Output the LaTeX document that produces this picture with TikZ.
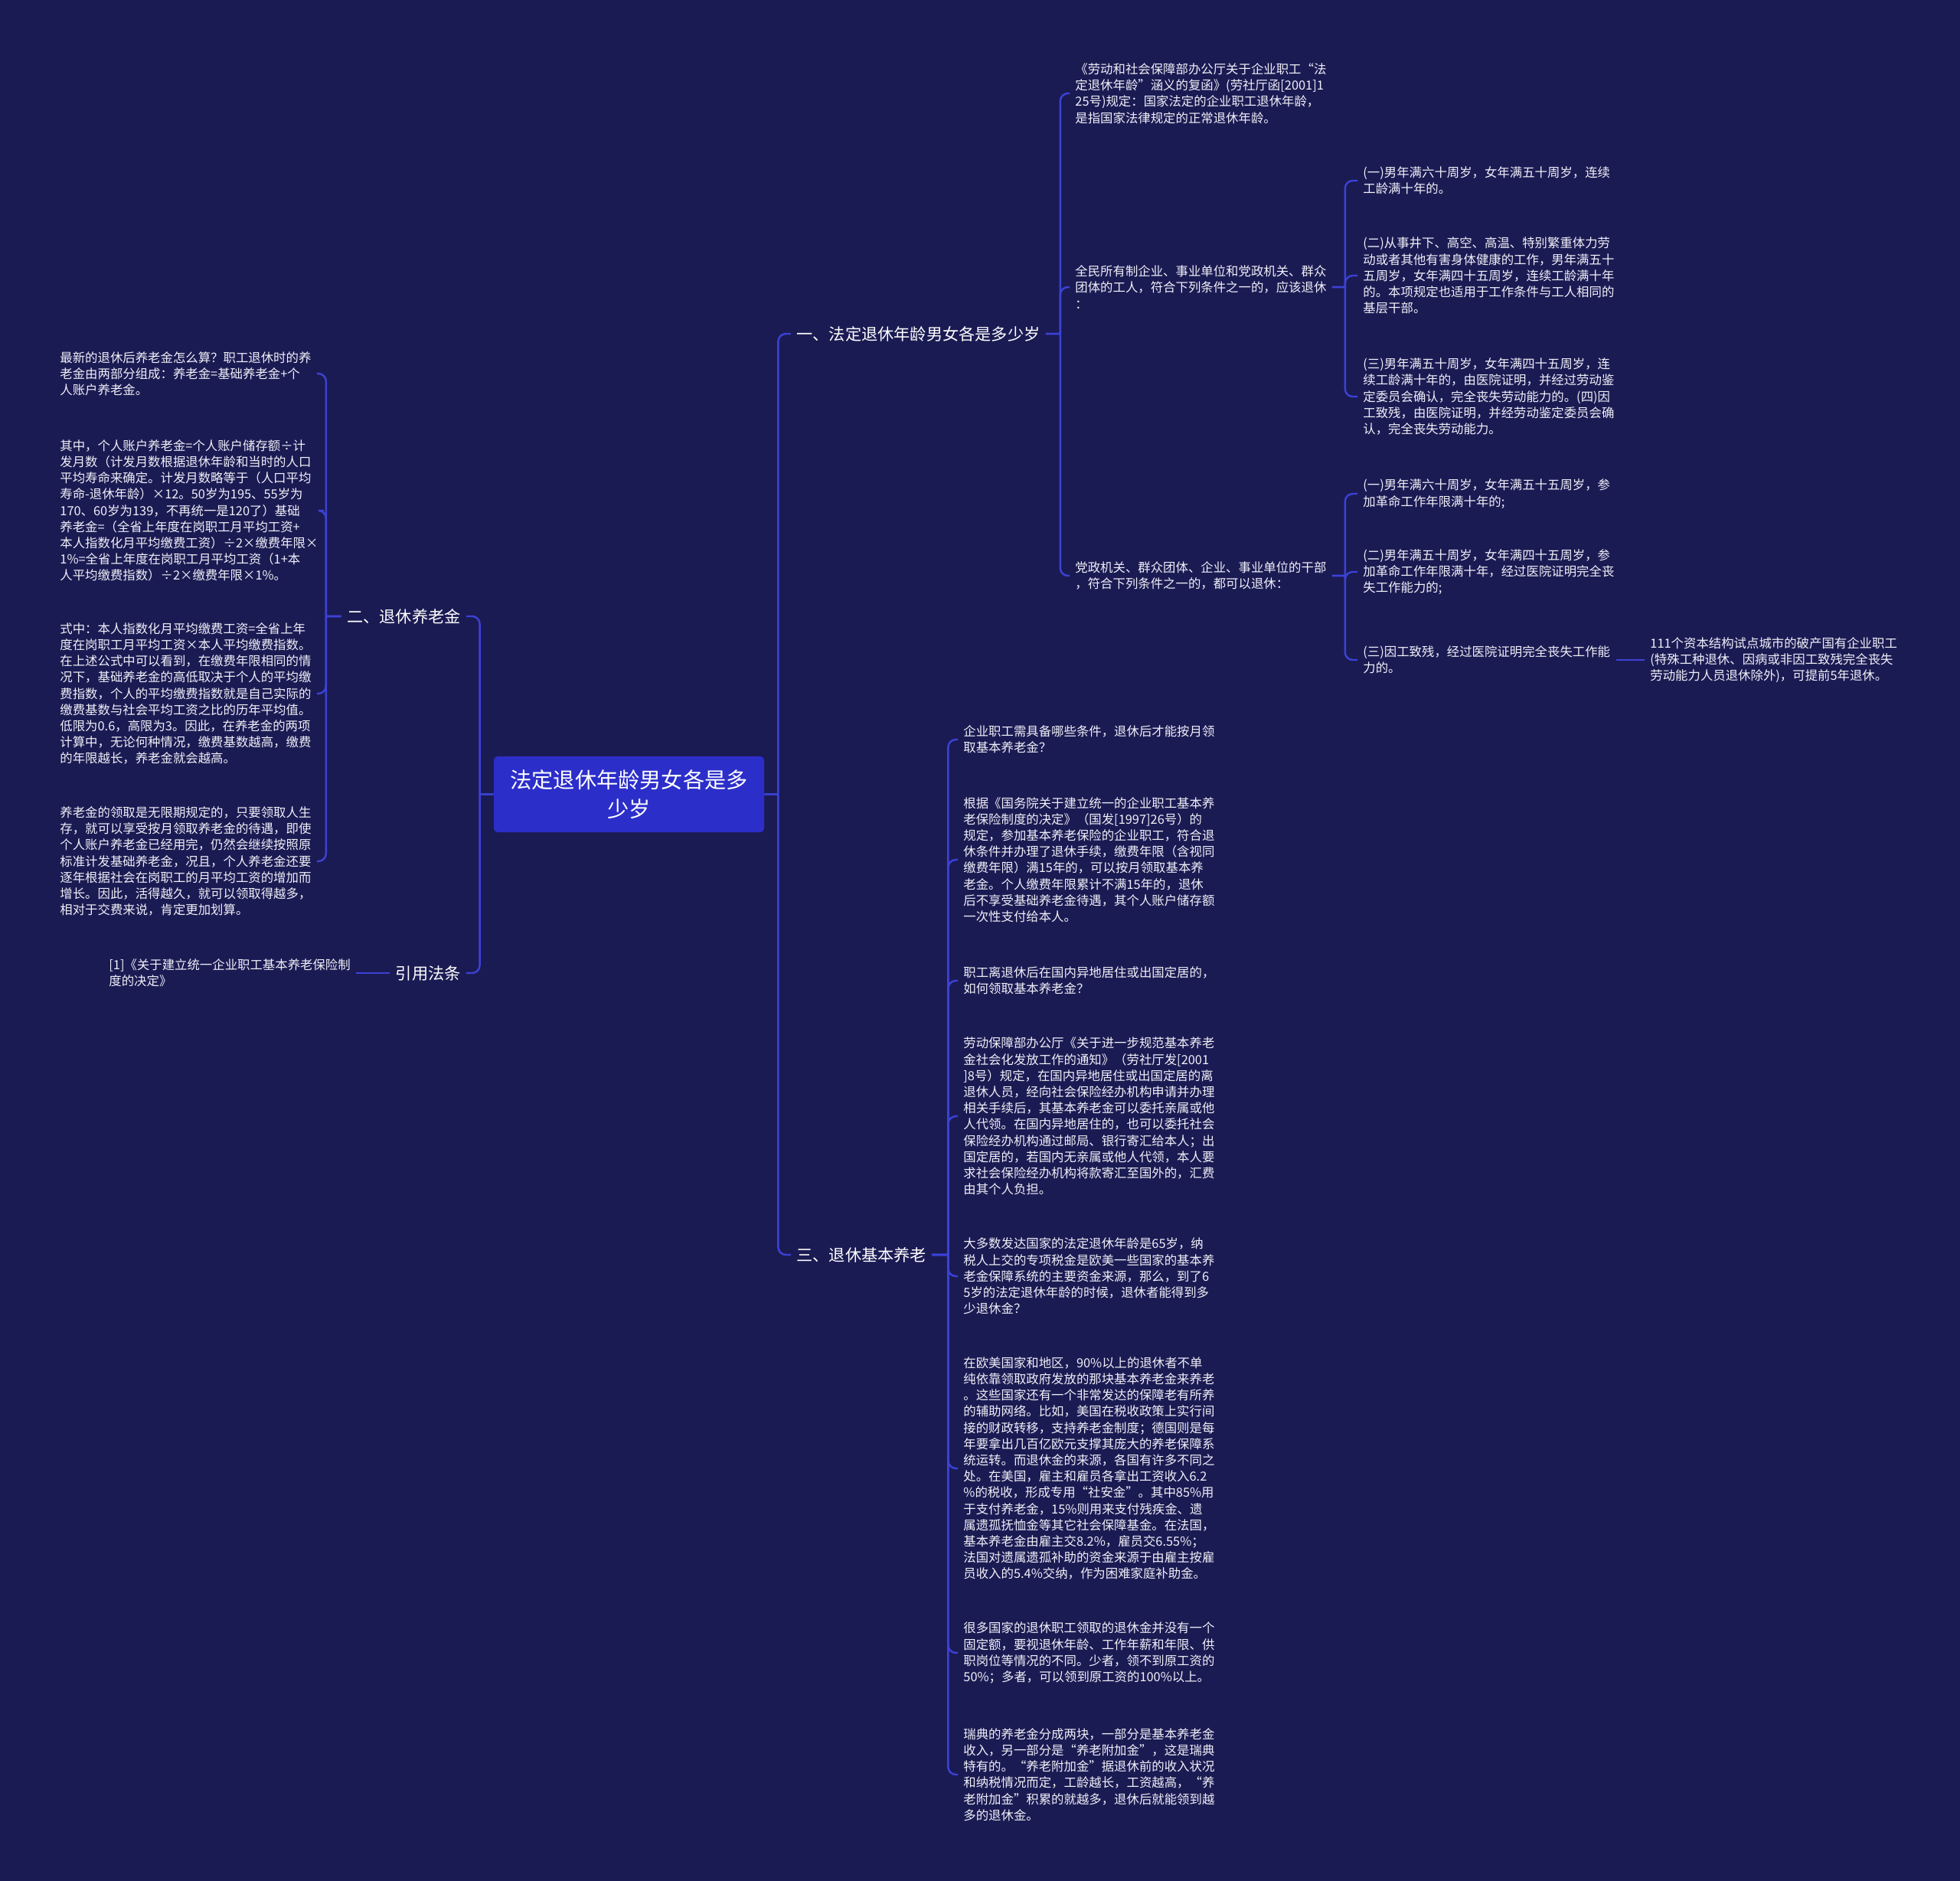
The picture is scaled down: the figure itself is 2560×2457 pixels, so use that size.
\documentclass[tikz,border=0pt]{standalone}
\usepackage{fontspec}
\setmainfont{Noto Sans CJK SC}
\definecolor{bgc}{RGB}{27,27,84}
\definecolor{boxc}{RGB}{44,46,202}
\definecolor{linec}{RGB}{60,66,214}
\definecolor{txtc}{RGB}{240,240,248}
\tikzset{
  conn/.style={draw=linec, line width=1.2pt, rounded corners=5pt},
  leaf/.style={align=left, text=txtc, inner xsep=3.5pt, inner ysep=2pt, font=\fontsize{8.2}{10.6}\selectfont},
  branch/.style={align=left, text=white, inner xsep=3.5pt, inner ysep=2pt, font=\fontsize{10.6}{13}\selectfont},
  root/.style={fill=boxc, rounded corners=2.5pt, align=center, text=white, inner sep=0pt, minimum width=176.5pt, minimum height=49.5pt, font=\fontsize{14.1}{18.8}\selectfont}
}
\begin{document}
\begin{tikzpicture}[x=0.5pt,y=-0.5pt]
\fill[bgc] (0,0) rectangle (2560,2457);
\useasboundingbox (0,0) rectangle (2560,2457);

% root
\node[root] (C) at (821.5,1037.5) {法定退休年龄男女各是多\\少岁};

% branches
\node[branch, anchor=west] (B1) at (1033,436) {一、法定退休年龄男女各是多少岁};
\node[branch, anchor=east] (B2) at (609,805) {二、退休养老金};
\node[branch, anchor=east] (B3) at (609,1271) {引用法条};
\node[branch, anchor=west] (B4) at (1033,1639) {三、退休基本养老};

% branch 1 children
\node[leaf, anchor=west] (c1) at (1397,122) {《劳动和社会保障部办公厅关于企业职工“法\\定退休年龄”涵义的复函》(劳社厅函[2001]1\\25号)规定：国家法定的企业职工退休年龄，\\是指国家法律规定的正常退休年龄。};
\node[leaf, anchor=west] (c2) at (1397,375) {全民所有制企业、事业单位和党政机关、群众\\团体的工人，符合下列条件之一的，应该退休\\：};
\node[leaf, anchor=west] (c3) at (1397,752) {党政机关、群众团体、企业、事业单位的干部\\，符合下列条件之一的，都可以退休：};

\node[leaf, anchor=west] (c2a) at (1773,236) {(一)男年满六十周岁，女年满五十周岁，连续\\工龄满十年的。};
\node[leaf, anchor=west] (c2b) at (1773,360) {(二)从事井下、高空、高温、特别繁重体力劳\\动或者其他有害身体健康的工作，男年满五十\\五周岁，女年满四十五周岁，连续工龄满十年\\的。本项规定也适用于工作条件与工人相同的\\基层干部。};
\node[leaf, anchor=west] (c2c) at (1773,518) {(三)男年满五十周岁，女年满四十五周岁，连\\续工龄满十年的，由医院证明，并经过劳动鉴\\定委员会确认，完全丧失劳动能力的。(四)因\\工致残，由医院证明，并经劳动鉴定委员会确\\认，完全丧失劳动能力。};

\node[leaf, anchor=west] (c3a) at (1773,645) {(一)男年满六十周岁，女年满五十五周岁，参\\加革命工作年限满十年的;};
\node[leaf, anchor=west] (c3b) at (1773,747) {(二)男年满五十周岁，女年满四十五周岁，参\\加革命工作年限满十年，经过医院证明完全丧\\失工作能力的;};
\node[leaf, anchor=west] (c3c) at (1773,862) {(三)因工致残，经过医院证明完全丧失工作能\\力的。};
\node[leaf, anchor=west] (c3d) at (2148,862) {111个资本结构试点城市的破产国有企业职工\\(特殊工种退休、因病或非因工致残完全丧失\\劳动能力人员退休除外)，可提前5年退休。};

% branch 2 children
\node[leaf, anchor=west] (L1) at (71,488) {最新的退休后养老金怎么算？职工退休时的养\\老金由两部分组成：养老金=基础养老金+个\\人账户养老金。};
\node[leaf, anchor=west] (L2) at (71,667) {其中，个人账户养老金=个人账户储存额÷计\\发月数（计发月数根据退休年龄和当时的人口\\平均寿命来确定。计发月数略等于（人口平均\\寿命-退休年龄）×12。50岁为195、55岁为\\170、60岁为139，不再统一是120了）基础\\养老金=（全省上年度在岗职工月平均工资+\\本人指数化月平均缴费工资）÷2×缴费年限×\\1\%=全省上年度在岗职工月平均工资（1+本\\人平均缴费指数）÷2×缴费年限×1\%。};
\node[leaf, anchor=west] (L3) at (71,906) {式中：本人指数化月平均缴费工资=全省上年\\度在岗职工月平均工资×本人平均缴费指数。\\在上述公式中可以看到，在缴费年限相同的情\\况下，基础养老金的高低取决于个人的平均缴\\费指数，个人的平均缴费指数就是自己实际的\\缴费基数与社会平均工资之比的历年平均值。\\低限为0.6，高限为3。因此，在养老金的两项\\计算中，无论何种情况，缴费基数越高，缴费\\的年限越长，养老金就会越高。};
\node[leaf, anchor=west] (L4) at (71,1125) {养老金的领取是无限期规定的，只要领取人生\\存，就可以享受按月领取养老金的待遇，即使\\个人账户养老金已经用完，仍然会继续按照原\\标准计发基础养老金，况且，个人养老金还要\\逐年根据社会在岗职工的月平均工资的增加而\\增长。因此，活得越久，就可以领取得越多，\\相对于交费来说，肯定更加划算。};

% branch 3 child
\node[leaf, anchor=west] (R1) at (135,1271) {[1]《关于建立统一企业职工基本养老保险制\\度的决定》};

% branch 4 children
\node[leaf, anchor=west] (M1) at (1251,966) {企业职工需具备哪些条件，退休后才能按月领\\取基本养老金？};
\node[leaf, anchor=west] (M2) at (1251,1123) {根据《国务院关于建立统一的企业职工基本养\\老保险制度的决定》（国发[1997]26号）的\\规定，参加基本养老保险的企业职工，符合退\\休条件并办理了退休手续，缴费年限（含视同\\缴费年限）满15年的，可以按月领取基本养\\老金。个人缴费年限累计不满15年的，退休\\后不享受基础养老金待遇，其个人账户储存额\\一次性支付给本人。};
\node[leaf, anchor=west] (M3) at (1251,1281) {职工离退休后在国内异地居住或出国定居的，\\如何领取基本养老金？};
\node[leaf, anchor=west] (M4) at (1251,1458) {劳动保障部办公厅《关于进一步规范基本养老\\金社会化发放工作的通知》（劳社厅发[2001\\{}]8号）规定，在国内异地居住或出国定居的离\\退休人员，经向社会保险经办机构申请并办理\\相关手续后，其基本养老金可以委托亲属或他\\人代领。在国内异地居住的，也可以委托社会\\保险经办机构通过邮局、银行寄汇给本人；出\\国定居的，若国内无亲属或他人代领，本人要\\求社会保险经办机构将款寄汇至国外的，汇费\\由其个人负担。};
\node[leaf, anchor=west] (M5) at (1251,1667) {大多数发达国家的法定退休年龄是65岁，纳\\税人上交的专项税金是欧美一些国家的基本养\\老金保障系统的主要资金来源，那么，到了6\\5岁的法定退休年龄的时候，退休者能得到多\\少退休金？};
\node[leaf, anchor=west] (M6) at (1251,1918) {在欧美国家和地区，90\%以上的退休者不单\\纯依靠领取政府发放的那块基本养老金来养老\\。这些国家还有一个非常发达的保障老有所养\\的辅助网络。比如，美国在税收政策上实行间\\接的财政转移，支持养老金制度；德国则是每\\年要拿出几百亿欧元支撑其庞大的养老保障系\\统运转。而退休金的来源，各国有许多不同之\\处。在美国，雇主和雇员各拿出工资收入6.2\\\%的税收，形成专用“社安金”。其中85\%用\\于支付养老金，15\%则用来支付残疾金、遗\\属遗孤抚恤金等其它社会保障基金。在法国，\\基本养老金由雇主交8.2\%，雇员交6.55\%；\\法国对遗属遗孤补助的资金来源于由雇主按雇\\员收入的5.4\%交纳，作为困难家庭补助金。};
\node[leaf, anchor=west] (M7) at (1251,2159) {很多国家的退休职工领取的退休金并没有一个\\固定额，要视退休年龄、工作年薪和年限、供\\职岗位等情况的不同。少者，领不到原工资的\\50\%；多者，可以领到原工资的100\%以上。};
\node[leaf, anchor=west] (M8) at (1251,2318) {瑞典的养老金分成两块，一部分是基本养老金\\收入，另一部分是“养老附加金”，这是瑞典\\特有的。“养老附加金”据退休前的收入状况\\和纳税情况而定，工龄越长，工资越高，“养\\老附加金”积累的就越多，退休后就能领到越\\多的退休金。};

% connectors: parent stub straight into the trunk, rounded corner only at the child end
\foreach \b in {B1,B4} \draw[conn] (C.east) -- ++(18,0) (C.east) ++(18,0) |- (\b.west);
\foreach \b in {B2,B3} \draw[conn] (C.west) -- ++(-18,0) (C.west) ++(-18,0) |- (\b.east);

% branch 1
\foreach \c in {c1,c2,c3} \draw[conn] (B1.east) -- ++(19,0) (B1.east) ++(19,0) |- (\c.west);
\foreach \c in {c2a,c2b,c2c} \draw[conn] (c2.east) -- ++(17,0) (c2.east) ++(17,0) |- (\c.west);
\foreach \c in {c3a,c3b,c3c} \draw[conn] (c3.east) -- ++(17,0) (c3.east) ++(17,0) |- (\c.west);
\draw[conn] (c3c.east) -- (c3d.west);

% branch 2
\foreach \c in {L1,L2,L3,L4} \draw[conn] (B2.west) -- ++(-20,0) (B2.west) ++(-20,0) |- (\c.east);
\draw[conn] (B3.west) -- (R1.east);

% branch 4
\foreach \c in {M1,M2,M3,M4,M5,M6,M7,M8} \draw[conn] (B4.east) -- ++(21,0) (B4.east) ++(21,0) |- (\c.west);
\end{tikzpicture}
\end{document}
